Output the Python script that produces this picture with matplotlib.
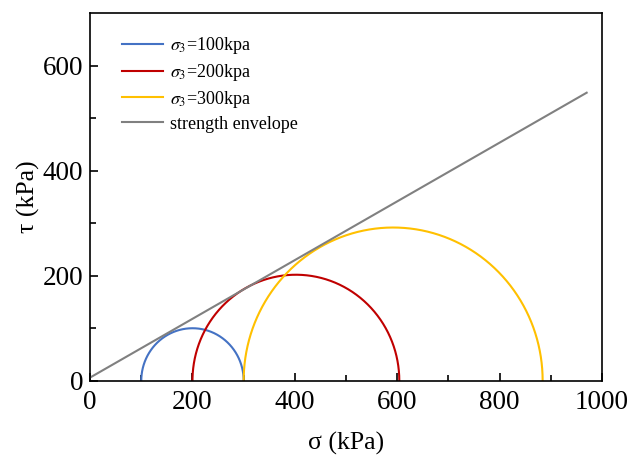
"""Mohr circles for three confining pressures with the fitted strength envelope."""
import matplotlib
matplotlib.use("Agg")
import matplotlib.pyplot as plt
import numpy as np

plt.rcParams["font.family"] = ["Liberation Serif", "DejaVu Serif"]
plt.rcParams["mathtext.fontset"] = "stix"

# confining pressure and major principal stress at failure (kPa)
sigma3 = [100, 200, 300]
sigma1 = [300, 604, 884]
labels = [r"$\sigma_3$=100kpa", r"$\sigma_3$=200kpa", r"$\sigma_3$=300kpa"]
colors = ["#4472C4", "#C00000", "#FFC000"]

# strength envelope end points
env_sigma = [0, 970]
env_tau = [6, 549]

fig = plt.figure(figsize=(6.3, 4.59), dpi=100)
ax = fig.add_axes([0.143, 0.1706, 0.8126, 0.80])

theta = np.linspace(0, np.pi, 400)
for s3, s1, lab, col in zip(sigma3, sigma1, labels, colors):
    c = (s1 + s3) / 2
    r = (s1 - s3) / 2
    ax.plot(c + r * np.cos(theta), r * np.sin(theta), color=col, lw=1.5, label=lab)

ax.plot(env_sigma, env_tau, color="#808080", lw=1.5, label="strength envelope")

ax.set_xlim(0, 1000)
ax.set_ylim(0, 700)
ax.set_xticks([0, 200, 400, 600, 800, 1000])
ax.set_yticks([0, 200, 400, 600])
ax.set_xticks(np.arange(100, 1000, 200), minor=True)
ax.set_yticks(np.arange(100, 700, 200), minor=True)
ax.tick_params(which="both", direction="in", labelsize=19.5, width=1.2)
ax.tick_params(which="major", length=6, pad=5)
ax.tick_params(axis="x", which="major", pad=7)
ax.tick_params(which="minor", length=4)
for sp in ax.spines.values():
    sp.set_linewidth(1.2)

ax.set_xlabel("σ (kPa)", fontsize=18.5, labelpad=12)
ax.set_ylabel("τ (kPa)", fontsize=18.5, labelpad=2)

ax.legend(loc="upper left", frameon=False, fontsize=13, handlelength=2.3,
          handletextpad=0.35, labelspacing=0.32, bbox_to_anchor=(0.03, 0.985))

fig.savefig("out.png", dpi=100)
